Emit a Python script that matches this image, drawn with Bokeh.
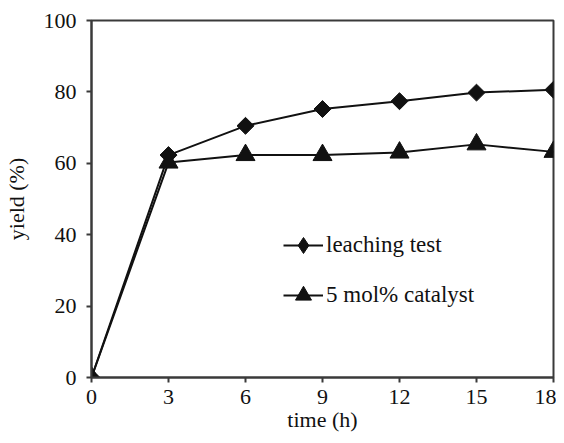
import math
from bokeh.plotting import figure
from bokeh.models import FixedTicker, Legend, LegendItem, Range1d
from bokeh.embed import file_html
from bokeh.resources import INLINE

time_h = [0, 3, 6, 9, 12, 15, 18]
leaching = [0, 62.3, 70.5, 75.2, 77.4, 79.8, 80.6]
catalyst = [0, 60.2, 62.3, 62.3, 63.0, 65.3, 63.2]
x_ticks = [0, 3, 6, 9, 12, 15, 18]
y_ticks = [0, 20, 40, 60, 80, 100]

FONT = "Liberation Serif"
AX = "#3a3a3a"
INK = "#111111"

p = figure(width=556, height=435, output_backend="svg", toolbar_location=None,
           x_range=Range1d(0, 18), y_range=Range1d(0, 100),
           min_border_left=88, min_border_right=3, min_border_top=20, min_border_bottom=58)
p.xgrid.visible = False
p.ygrid.visible = False
p.outline_line_color = AX
p.outline_line_width = 2
p.outline_line_alpha = 1

for ax in (p.xaxis[0], p.yaxis[0]):
    ax.axis_line_color = AX
    ax.axis_line_width = 2
    ax.major_tick_line_color = AX
    ax.major_tick_line_width = 2
    ax.major_tick_out = 5
    ax.major_tick_in = 0
    ax.minor_tick_line_color = None
    ax.major_label_text_font = FONT
    ax.major_label_text_font_size = "22px"
    ax.major_label_text_color = "#111111"
    ax.axis_label_text_font = FONT
    ax.axis_label_text_font_size = "22px"
    ax.axis_label_text_font_style = "normal"
    ax.axis_label_text_color = "#111111"

p.xaxis.ticker = FixedTicker(ticks=x_ticks)
p.yaxis.ticker = FixedTicker(ticks=y_ticks)
p.xaxis.axis_label = "time (h)"
p.yaxis.axis_label = "yield (%)"
p.xaxis.major_label_standoff = 7
p.yaxis.major_label_standoff = 10
p.xaxis.axis_label_standoff = 0
p.yaxis.axis_label_standoff = 12

l1 = p.line(time_h, leaching, line_color=INK, line_width=2)
s1 = p.scatter(time_h, leaching, marker="square", size=12, angle=math.pi / 4,
               fill_color=INK, line_color=INK)
l2 = p.line(time_h, catalyst, line_color=INK, line_width=2)
s2 = p.scatter(time_h, catalyst, marker="triangle", size=19, fill_color=INK, line_color=INK)

# legend-only diamond (legend markers are never rotated); NaN point is not drawn in the plot
leg_d = p.scatter(x=[float("nan")], y=[float("nan")], marker="diamond", size=16,
                  fill_color=INK, line_color=INK)

legend = Legend(items=[LegendItem(label="leaching test", renderers=[l1, leg_d]),
                       LegendItem(label="5 mol% catalyst", renderers=[l2, s2])],
                location=(192, 62), glyph_width=40, glyph_height=40, label_height=40,
                spacing=10, padding=0, margin=0, label_standoff=3,
                border_line_color=None, background_fill_alpha=0,
                label_text_font=FONT, label_text_font_size="23px", label_text_color="#111111")
p.add_layout(legend, "center")

open("out.html", "w").write(file_html(p, INLINE))
